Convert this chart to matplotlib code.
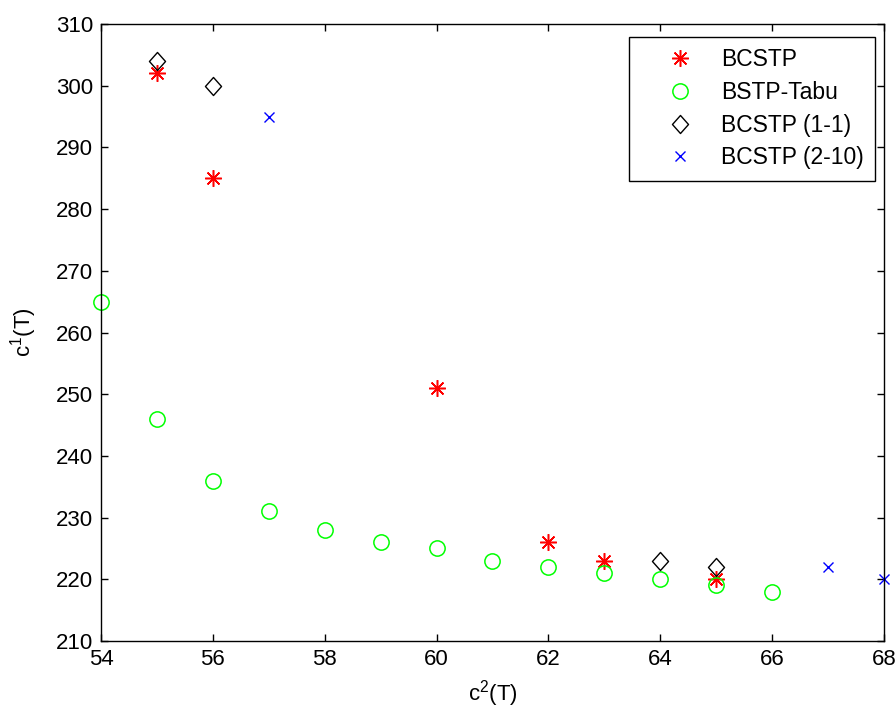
"""
Pareto fronts of the compared heuristics, c2(T) vs c1(T)
"""

import numpy as np
import matplotlib
matplotlib.use('agg')

import matplotlib.pyplot as plt
from matplotlib.path import Path

plt.rcParams['font.family'] = ['Liberation Sans', 'DejaVu Sans']
plt.rcParams['mathtext.fontset'] = 'custom'
plt.rcParams['mathtext.rm'] = 'Liberation Sans'
plt.rcParams['mathtext.it'] = 'Liberation Sans'
plt.rcParams['mathtext.default'] = 'regular'

# ------------- data ---------------------------------
bcstp_c2 = [55, 56, 60, 62, 63, 65]
bcstp_c1 = [302, 285, 251, 226, 223, 220]

tabu_c2 = [54, 55, 56, 57, 58, 59, 60, 61, 62, 63, 64, 65, 66]
tabu_c1 = [265, 246, 236, 231, 228, 226, 225, 223, 222, 221, 220, 219, 218]

bcstp11_c2 = [55, 56, 64, 65]
bcstp11_c1 = [304, 300, 223, 222]

bcstp210_c2 = [57, 67, 68]
bcstp210_c1 = [295, 222, 220]

x_ticks = np.arange(54, 69, 2)
y_ticks = np.arange(210, 311, 10)

# slightly tall diamond, like the matlab one
diamond = Path([(0, 1), (0.89, 0), (0, -1), (-0.89, 0), (0, 1)],
               [Path.MOVETO, Path.LINETO, Path.LINETO, Path.LINETO,
                Path.CLOSEPOLY])

# ----------- figure setup --------------------------------
fig = plt.figure(figsize=(8.96, 7.13), dpi=100)
ax = fig.add_axes([0.1127, 0.1010, 0.8739, 0.8653])

ax.plot(bcstp_c2, bcstp_c1, linestyle='none', marker=(8, 2, 0),
        markersize=12, markeredgecolor='r', markeredgewidth=1.1,
        clip_on=False, label='BCSTP')
ax.plot(tabu_c2, tabu_c1, linestyle='none', marker='o', markersize=11,
        markerfacecolor='none', markeredgecolor=(0, 1, 0),
        markeredgewidth=1.1, clip_on=False, label='BSTP-Tabu')
ax.plot(bcstp11_c2, bcstp11_c1, linestyle='none', marker=diamond,
        markersize=13, markerfacecolor='none', markeredgecolor='k',
        markeredgewidth=1.0, clip_on=False, label='BCSTP (1-1)')
ax.plot(bcstp210_c2, bcstp210_c1, linestyle='none', marker='x',
        markersize=7, markeredgecolor='b', markeredgewidth=1.0,
        clip_on=False, label='BCSTP (2-10)')

ax.set_xlim(54, 68)
ax.set_ylim(210, 310)
ax.set_xticks(x_ticks)
ax.set_yticks(y_ticks)
ax.tick_params(direction='in', length=5, width=1, labelsize=16,
               top=True, right=True, pad=5.5)
for sp in ax.spines.values():
    sp.set_linewidth(1.0)

ax.set_xlabel('c$^2$(T)', fontsize=16, labelpad=6)
ax.set_ylabel('c$^1$(T)', fontsize=16, labelpad=12)

leg = ax.legend(loc='upper right', bbox_to_anchor=(0.9885, 0.979),
                borderaxespad=0, fontsize=16.5, numpoints=1,
                fancybox=False, framealpha=1, edgecolor='k',
                handlelength=3.4, handletextpad=0.1, borderpad=0.5,
                labelspacing=0.42)
leg.get_frame().set_linewidth(1.0)

plt.savefig('out.png', dpi=100)
